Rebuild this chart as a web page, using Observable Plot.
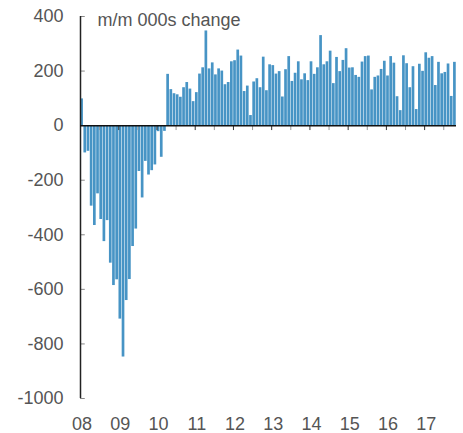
<!DOCTYPE html>
<html>
<head>
<meta charset="utf-8">
<script src="https://cdn.jsdelivr.net/npm/d3@7"></script>
<script src="https://cdn.jsdelivr.net/npm/@observablehq/plot@0.6"></script>
<style>
  html, body { margin: 0; padding: 0; background: #fff; }
  #chart svg { display: block; }
</style>
</head>
<body>
<div id="chart"></div>
<script>
// ---- data (monthly change, thousands; Jan 2008 .. Oct 2017) ----
const startYear = 2008;
const values = [
  98, -100, -94, -295, -366, -250, -344, -425, -348, -504, -586, -565,
  -709, -848, -641, -564, -443, -379, -168, -265, -131, -181, -165, -144,
  -22, -116, -21, 188, 132, 117, 113, 104, 139, 158, 134, 88,
  121, 189, 212, 347, 208, 230, 186, 208, 200, 150, 158, 234,
  238, 277, 255, 125, 145, 37, 160, 172, 139, 251, 128, 223,
  220, 189, 198, 105, 205, 253, 162, 192, 234, 168, 190, 165,
  234, 188, 212, 330, 223, 234, 273, 154, 250, 198, 239, 282,
  211, 212, 184, 177, 233, 253, 255, 131, 177, 182, 206, 236,
  182, 253, 229, 106, 55, 256, 227, 139, 216, 59, 225, 199,
  267, 247, 253, 147, 232, 190, 195, 226, 107, 232
];
const yTicks = [-1000, -800, -600, -400, -200, 0, 200, 400];
const yearLabels = ["08", "09", "10", "11", "12", "13", "14", "15", "16", "17"];
const title = "m/m 000s change";

// ---- derived tables ----
const bars = values.map((v, i) => ({m: i, v}));
const nMonths = values.length;
const yearTicks = yearLabels.map((_, i) => i * 12);
const halfTicks = yearLabels.map((_, i) => i * 12 + 6);
const yearTable = yearLabels.map((t, i) => ({m: i * 12 + 0.5, t}));

const font = "'Liberation Sans', Arial, Helvetica, sans-serif";
const textColor = "#555";

const chart = Plot.plot({
  width: 463,
  height: 433,
  marginLeft: 80,
  marginRight: 7,
  marginTop: 16,
  marginBottom: 35,
  style: {fontFamily: font, background: "#fff"},
  x: {type: "linear", domain: [0, nMonths], axis: null},
  y: {domain: [-1000, 400], axis: null},
  marks: [
    Plot.rectY(bars, {
      x1: "m",
      x2: d => d.m + 1,
      y1: 0,
      y2: "v",
      fill: "#4794c5",
      insetLeft: 0.25,
      insetRight: 0.25
    }),
    // y-axis ticks (pointing inward)
    Plot.ruleY(yTicks.filter(d => d !== 0), {y: d => d, x1: 0, x2: 1.5, stroke: "#888", strokeWidth: 1}),
    // y-axis line
    Plot.ruleX([0], {y1: -1000, y2: 400, stroke: "#222", strokeWidth: 1.5}),
    // x ticks on the zero line
    Plot.ruleX(halfTicks, {x: d => d, y1: 0, y2: -18, stroke: "#999", strokeWidth: 1}),
    Plot.ruleX(yearTicks.slice(1), {x: d => d, y1: 0, y2: -18, stroke: "#333", strokeWidth: 1}),
    // zero line
    Plot.ruleY([0], {x1: 0, x2: nMonths, stroke: "#111", strokeWidth: 1.5}),
    // y tick labels
    Plot.text(yTicks, {
      x: 0, y: d => d, text: d => String(d),
      textAnchor: "end", dx: -17, fontSize: 18, fill: textColor
    }),
    // x labels
    Plot.text(yearTable, {
      x: "m", y: -1000, text: "t", dy: 26,
      textAnchor: "middle", fontSize: 18, fill: textColor
    }),
    // title inside the plot
    Plot.text([title], {
      x: 0, y: 400, text: d => d, dx: 17, dy: 4,
      textAnchor: "start", fontSize: 18, fill: textColor
    })
  ]
});

document.getElementById("chart").appendChild(chart);
</script>
</body>
</html>
